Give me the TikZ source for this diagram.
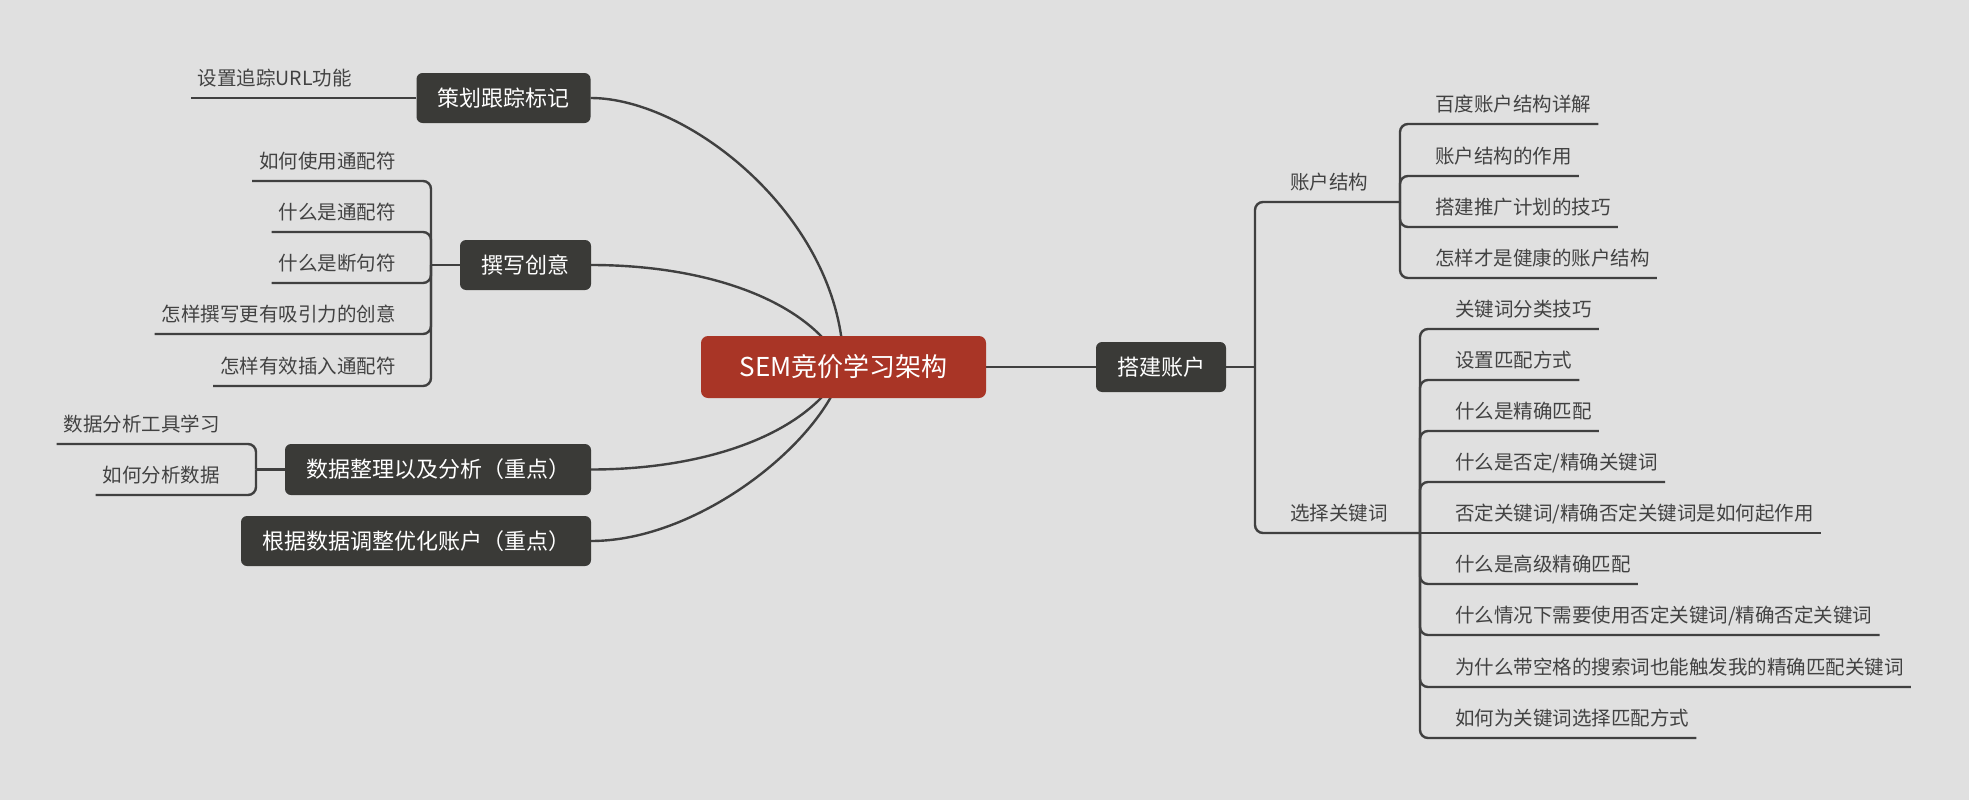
\documentclass[tikz,border=0pt]{standalone}
\usepackage{fontspec}
\setmainfont{Noto Sans CJK SC}
\pgfdeclarelayer{bg}
\pgfdeclarelayer{lines}
\pgfsetlayers{bg,lines,main}
\definecolor{bgc}{HTML}{E0E0E0}
\definecolor{boxc}{HTML}{3A3A37}
\definecolor{redc}{HTML}{A93526}
\definecolor{linec}{HTML}{404040}
\definecolor{leafc}{HTML}{424242}
\begin{document}
\begin{tikzpicture}[x=1pt,y=-1pt,
  conn/.style={draw=linec, line width=2.4pt},
  elbow/.style={conn, rounded corners=8pt},
  topbox/.style={fill=boxc, text=white, rounded corners=6pt, font=\fontsize{22}{26}\selectfont, inner sep=0pt, minimum height=50pt},
  rootbox/.style={fill=redc, text=white, rounded corners=7pt, font=\fontsize{26}{30}\selectfont, inner sep=0pt, minimum width=285pt, minimum height=62pt},
  leaf/.style={font=\fontsize{19.5}{23}\selectfont, text=leafc, inner xsep=7pt, inner ysep=0pt, text height=15pt, text depth=12.8pt},
  rleaf/.style={leaf, anchor=south west},
  lleaf/.style={leaf, anchor=south east}]
\useasboundingbox (0,0) rectangle (1969,800);
\begin{pgfonlayer}{bg}
\fill[bgc] (0,0) rectangle (1969,800);
\end{pgfonlayer}

% main topics
\node[rootbox] (root) at (843.5,367) {SEM竞价学习架构};
\node[topbox, minimum width=130pt] (dj) at (1161,367) {搭建账户};
\node[topbox, minimum width=174pt] (ch) at (503.5,98) {策划跟踪标记};
\node[topbox, minimum width=131pt] (zx) at (525.5,265) {撰写创意};
\node[topbox, minimum width=306pt, minimum height=51pt] (sj) at (438,469.5) {数据整理以及分析（重点）};
\node[topbox, minimum width=350pt] (gj) at (416,541) {根据数据调整优化账户（重点）};

% junctions
\coordinate (djj) at (1255,367);
\coordinate (zhj) at (1400,202);
\coordinate (xzj) at (1420,533);
\coordinate (chj) at (387,98);
\coordinate (zxj) at (431,265);
\coordinate (sjj) at (256,469.5);

% right side
\node[rleaf] (zh) at (1283,202) {账户结构};
\node[rleaf] (xz) at (1283,533) {选择关键词};

\node[rleaf] (z1) at (1428,124) {百度账户结构详解};
\node[rleaf] (z2) at (1428,176) {账户结构的作用};
\node[rleaf] (z3) at (1428,227) {搭建推广计划的技巧};
\node[rleaf] (z4) at (1428,278) {怎样才是健康的账户结构};

\node[rleaf] (x1) at (1448,329) {关键词分类技巧};
\node[rleaf] (x2) at (1448,380) {设置匹配方式};
\node[rleaf] (x3) at (1448,431) {什么是精确匹配};
\node[rleaf] (x4) at (1448,482) {什么是否定/精确关键词};
\node[rleaf] (x5) at (1448,533) {否定关键词/精确否定关键词是如何起作用};
\node[rleaf] (x6) at (1448,584) {什么是高级精确匹配};
\node[rleaf] (x7) at (1448,635) {什么情况下需要使用否定关键词/精确否定关键词};
\node[rleaf] (x8) at (1448,687) {为什么带空格的搜索词也能触发我的精确匹配关键词};
\node[rleaf] (x9) at (1448,738) {如何为关键词选择匹配方式};

% left side
\node[lleaf] (c1) at (359,98) {设置追踪URL功能};

\node[lleaf] (w1) at (403,181) {如何使用通配符};
\node[lleaf] (w2) at (403,232) {什么是通配符};
\node[lleaf] (w3) at (403,283) {什么是断句符};
\node[lleaf] (w4) at (403,334) {怎样撰写更有吸引力的创意};
\node[lleaf] (w5) at (403,386) {怎样有效插入通配符};

\node[lleaf] (s1) at (227,444) {数据分析工具学习};
\node[lleaf] (s2) at (227,495) {如何分析数据};

\begin{pgfonlayer}{lines}
% curves from the root
\draw[conn] (root.center) .. controls (843,220) and (690,98) .. (ch.east);
\draw[conn] (root.center) .. controls (810,300) and (706,265) .. (zx.east);
\draw[conn] (root.center) .. controls (810,434) and (706,469.5) .. (sj.east);
\draw[conn] (root.center) .. controls (825,440) and (700,541) .. (gj.east);
\draw[conn] (root.east) -- (dj.west);

% right branches
\draw[conn] (dj.east) -- (djj);
\draw[elbow] (djj) |- (zh.south west) -- (zhj);
\draw[elbow] (djj) |- (xz.south west) -- (xzj);
\foreach \n in {z1,z2,z3,z4} \draw[elbow] (zhj) |- (\n.south east);
\foreach \n in {x1,x2,x3,x4,x6,x7,x8,x9} \draw[elbow] (xzj) |- (\n.south east);
\draw[conn] (xzj) -- (x5.south east);

% left branches
\draw[conn] (ch.west) -- (chj) -- (c1.south west);
\draw[conn] (zx.west) -- (zxj);
\foreach \n in {w1,w2,w3,w4,w5} \draw[elbow] (zxj) |- (\n.south west);
\draw[conn] (sj.west) -- (sjj);
\foreach \n in {s1,s2} \draw[elbow] (sjj) |- (\n.south west);
\end{pgfonlayer}
\end{tikzpicture}
\end{document}
